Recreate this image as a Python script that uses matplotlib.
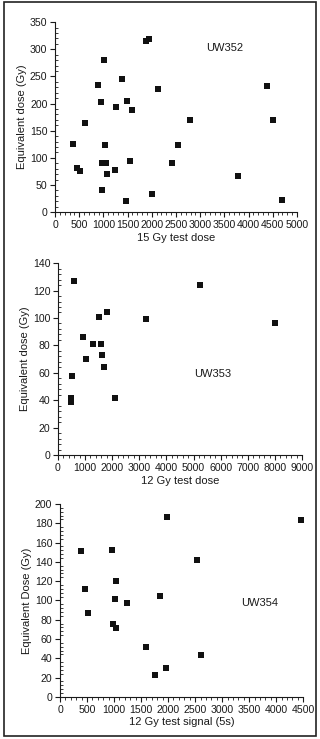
import matplotlib.pyplot as plt
from matplotlib.ticker import AutoMinorLocator, MultipleLocator
from matplotlib.patches import Rectangle

plt.rcParams['font.family'] = ['Liberation Sans', 'DejaVu Sans']

# UW352: 15 Gy test dose vs equivalent dose
uw352_x = [380, 450, 515, 625, 890, 945, 1005, 965, 1055, 1030, 1065, 980, 1245, 1265,
           1380, 1480, 1590, 1555, 1460, 1880, 1940, 2000, 2120, 2425, 2535, 2785,
           3780, 4390, 4505, 4690]
uw352_y = [125, 82, 75, 164, 234, 203, 281, 91, 91, 124, 70, 41, 77, 193,
           245, 204, 189, 95, 21, 315, 319, 34, 226, 91, 124, 170,
           66, 233, 170, 23]

# UW353: 12 Gy test dose
uw353_x = [590, 480, 495, 530, 940, 1035, 1305, 1530, 1605, 1625, 1715, 1810, 2110,
           3240, 5250, 7990]
uw353_y = [127, 39, 42, 58, 86, 70, 81, 101, 81, 73, 64, 104, 42,
           99, 124, 96]

# UW354: 12 Gy test signal (5s)
uw354_x = [380, 455, 525, 970, 1040, 1010, 980, 1035, 1245, 1590, 1755, 1855, 1955,
           1985, 2535, 2615, 4465]
uw354_y = [151, 112, 87, 152, 120, 102, 76, 71, 97, 52, 23, 105, 30,
           187, 142, 43, 183]

panels = [
    dict(x=uw352_x, y=uw352_y, rect=[0.172, 0.713, 0.756, 0.257], xlim=5000, xstep=500,
         ylim=350, ystep=50, xlabel='15 Gy test dose', ylabel='Equivalent dose (Gy)',
         name='UW352', pos=(3500, 303)),
    dict(x=uw353_x, y=uw353_y, rect=[0.181, 0.384, 0.763, 0.260], xlim=9000, xstep=1000,
         ylim=140, ystep=20, xlabel='12 Gy test dose', ylabel='Equivalent dose (Gy)',
         name='UW353', pos=(5700, 59)),
    dict(x=uw354_x, y=uw354_y, rect=[0.1875, 0.057, 0.76, 0.261], xlim=4500, xstep=500,
         ylim=200, ystep=20, xlabel='12 Gy test signal (5s)', ylabel='Equivalent Dose (Gy)',
         name='UW354', pos=(3700, 97)),
]

ink = '#1a1a1a'
fig = plt.figure(figsize=(3.2, 7.39), dpi=100)
fig.patches.append(Rectangle((0.014, 0.004), 0.975, 0.993, transform=fig.transFigure,
                             fill=False, edgecolor='#222222', linewidth=1.2))

for p in panels:
    ax = fig.add_axes(p['rect'])
    ax.scatter(p['x'], p['y'], marker='s', s=20, color='#111111', linewidths=0)
    ax.set_xlim(0, p['xlim'])
    ax.set_ylim(0, p['ylim'])
    ax.xaxis.set_major_locator(MultipleLocator(p['xstep']))
    ax.yaxis.set_major_locator(MultipleLocator(p['ystep']))
    ax.xaxis.set_minor_locator(AutoMinorLocator(5))
    ax.yaxis.set_minor_locator(AutoMinorLocator(5))
    for s in ['top', 'right']:
        ax.spines[s].set_visible(False)
    for s in ['left', 'bottom']:
        ax.spines[s].set_linewidth(0.8)
        ax.spines[s].set_color(ink)
    ax.tick_params(which='major', length=3.5, width=0.8, labelsize=7.6, pad=2,
                   colors=ink)
    ax.tick_params(axis='y', which='minor', direction='in', length=2, width=0.6, colors=ink)
    ax.tick_params(axis='x', which='minor', direction='out', length=2, width=0.6, colors=ink)
    ax.set_xlabel(p['xlabel'], fontsize=8, labelpad=2, color=ink)
    ax.set_ylabel(p['ylabel'], fontsize=8, labelpad=2, color=ink)
    ax.text(p['pos'][0], p['pos'][1], p['name'], fontsize=8, ha='center', va='center',
            color=ink)

fig.savefig('out.png', dpi=100)
